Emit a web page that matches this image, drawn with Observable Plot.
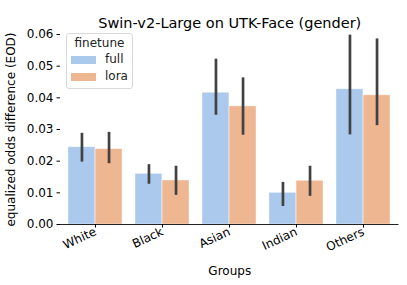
<!DOCTYPE html>
<html>
<head>
<meta charset="utf-8">
<script src="https://cdn.jsdelivr.net/npm/d3@7"></script>
<script src="https://cdn.jsdelivr.net/npm/@observablehq/plot@0.6"></script>
<style>
  html, body { margin: 0; padding: 0; background: #fff; }
  #wrap { position: relative; width: 407px; height: 285px; font-family: "DejaVu Sans", sans-serif; }
  #legend { position: absolute; left: 66px; top: 33px; width: 67px; height: 56px; border: 1px solid #d9d9d9; border-radius: 3px; background: rgba(255,255,255,0.8); box-sizing: border-box; font-size: 12px; color: #222; }
  #legend .t { position: absolute; left: 0; right: 0; top: 2px; text-align: center; }
  #legend .sw { position: absolute; left: 4px; width: 25px; height: 8px; }
  #legend .lb { position: absolute; left: 38px; }
</style>
</head>
<body>
<div id="wrap">
  <div id="chart"></div>
  <div id="legend"></div>
</div>
<script>
const groups = ["White", "Black", "Asian", "Indian", "Others"];
const finetunes = ["full", "lora"];
const colors = ["#abc9ec", "#efb692"];
const fullMean = [0.0244, 0.0160, 0.0416, 0.0100, 0.0427];
const fullLow  = [0.0197, 0.0127, 0.0345, 0.0057, 0.0283];
const fullHigh = [0.0288, 0.0189, 0.0522, 0.0133, 0.0598];
const loraMean = [0.0238, 0.0139, 0.0373, 0.0138, 0.0408];
const loraLow  = [0.0192, 0.0092, 0.0282, 0.0089, 0.0312];
const loraHigh = [0.0291, 0.0184, 0.0463, 0.0184, 0.0586];
const yTicks = [0, 0.01, 0.02, 0.03, 0.04, 0.05, 0.06];
const title = "Swin-v2-Large on UTK-Face (gender)";
const xLabel = "Groups";
const yLabel = "equalized odds difference (EOD)";

const fullData = groups.map((g, i) => ({group: g, finetune: "full", value: fullMean[i], lo: fullLow[i], hi: fullHigh[i]}));
const loraData = groups.map((g, i) => ({group: g, finetune: "lora", value: loraMean[i], lo: loraLow[i], hi: loraHigh[i]}));

const W = 407, H = 285, mL = 60, mR = 8.5, mT = 34, mB = 61;
const step = (W - mL - mR) / (groups.length - 0.2 + 0.2);
const half = step * 0.8 / 2;

const chart = Plot.plot({
  width: W, height: H,
  marginLeft: mL, marginRight: mR, marginTop: mT, marginBottom: mB,
  style: {fontFamily: "DejaVu Sans, sans-serif", fontSize: "12px", color: "#000", background: "#fff"},
  x: {domain: groups, paddingInner: 0.2, paddingOuter: 0.1},
  y: {domain: [0, 0.06]},
  color: {domain: finetunes, range: colors},
  marks: [
    Plot.barY(fullData, {x: "group", y: "value", fill: "finetune", insetRight: half, stroke: "#fff", strokeOpacity: 0.5, strokeWidth: 0.8}),
    Plot.barY(loraData, {x: "group", y: "value", fill: "finetune", insetLeft: half, stroke: "#fff", strokeOpacity: 0.5, strokeWidth: 0.8}),
    Plot.ruleX(fullData, {x: "group", y1: "lo", y2: "hi", dx: -half / 2, stroke: "#424242", strokeWidth: 2.7}),
    Plot.ruleX(loraData, {x: "group", y1: "lo", y2: "hi", dx: half / 2, stroke: "#424242", strokeWidth: 2.7}),
    Plot.ruleY([0], {stroke: "#222", strokeWidth: 1}),
    Plot.axisY({ticks: yTicks, tickFormat: d3.format(".2f"), tickSize: 3.5, tickPadding: 3.5, label: yLabel, labelAnchor: "center", labelArrow: "none", labelOffset: 54, fontSize: 12}),
    Plot.axisX({tickSize: 3.5, tickPadding: 3, tickRotate: -25, label: xLabel, labelAnchor: "center", labelArrow: "none", labelOffset: 50, fontSize: 12}),
    Plot.text([title], {frameAnchor: "top", dy: -17, fontSize: 14.5, fill: "#000"})
  ]
});
document.getElementById("chart").appendChild(chart);

const legend = document.getElementById("legend");
legend.innerHTML = `<div class="t">finetune</div>` + finetunes.map((f, i) =>
  `<div class="sw" style="top:${22 + i * 17}px;background:${colors[i]}"></div><div class="lb" style="top:${18 + i * 17}px">${f}</div>`
).join("");
</script>
</body>
</html>
